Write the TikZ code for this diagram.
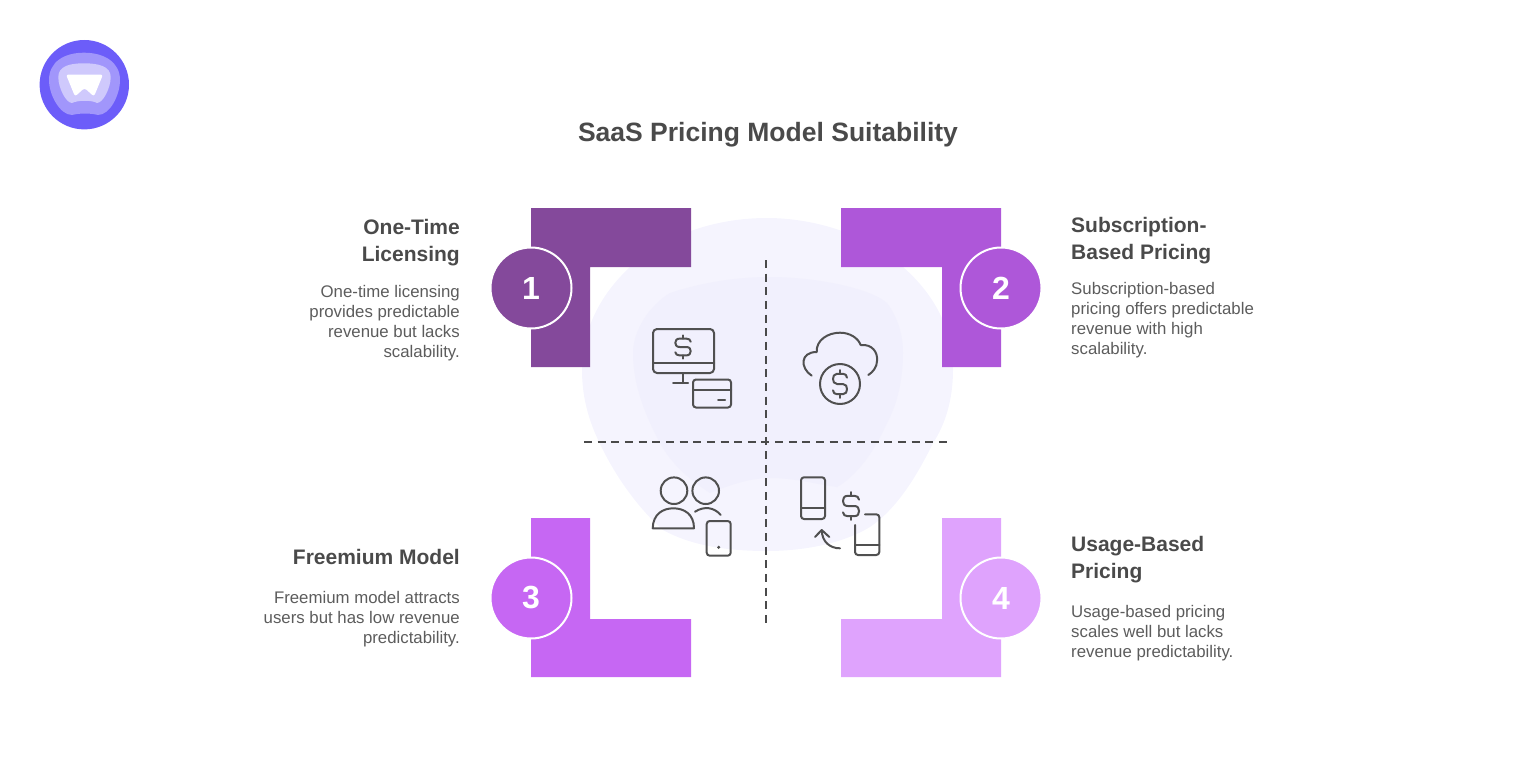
\documentclass[tikz,border=0pt]{standalone}
\usepackage{fontspec}
\setmainfont{Liberation Sans}
\usetikzlibrary{positioning,arrows.meta}
\definecolor{onecol}{HTML}{84499B}
\definecolor{twocol}{HTML}{AE57D9}
\definecolor{threecol}{HTML}{C667F3}
\definecolor{fourcol}{HTML}{DFA3FD}
\definecolor{inkcol}{HTML}{4A4A4A}
\definecolor{bodycol}{HTML}{5C5C5C}
\definecolor{iconcol}{HTML}{505050}
\tikzset{x=1pt,y=-1pt,
	 numroot/.style={circle,draw=white,line width=2pt,inner sep=0pt,minimum size=81pt,text=white,font=\bfseries\fontsize{32}{32}\selectfont},
	 headroot/.style={inner sep=0pt,text=inkcol,font=\bfseries\fontsize{21}{27}\selectfont},
	 bodyroot/.style={inner sep=0pt,text=bodycol,font=\fontsize{16.8}{20}\selectfont},
	 icon/.style={draw=iconcol,line width=2pt,line cap=round,line join=round},
	 divider/.style={draw=inkcol,line width=2pt,dash pattern=on 8pt off 5.65pt},
	 coin/.pic={\draw[icon] (7,-5) .. controls (7,-7) and (5,-8) .. (3,-8) -- (-3,-8) .. controls (-6,-8) and (-7,-6) .. (-7,-4) .. controls (-7,-2) and (-6,0) .. (-3,0) -- (3,0) .. controls (6,0) and (7,2) .. (7,4) .. controls (7,6) and (6,8) .. (3,8) -- (-3,8) .. controls (-5,8) and (-7,7) .. (-7,5);
		\draw[icon] (0,-8) -- (0,-11);
		\draw[icon] (0,8) -- (0,11);}
	 }
\begin{document}
\begin{tikzpicture}
	\useasboundingbox (0,0) rectangle (1536,768);
	% logo
	\fill[color={rgb,255:red,108;green,93;blue,249}] (84.3,84.7) circle (44.7);
	\fill[color={rgb,255:red,161;green,150;blue,251}] (84,52.7) .. controls (104,52.7) and (120,62) .. (120,80) .. controls (120,95) and (110,115) .. (98,115) .. controls (90,113) and (80,113) .. (72,115) .. controls (60,115) and (49,95) .. (49,80) .. controls (49,62) and (64,52.7) .. (84,52.7) -- cycle;
	\fill[color={rgb,255:red,207;green,201;blue,252}] (84,63.3) .. controls (98,63.3) and (110.7,66) .. (110.7,77) .. controls (110.7,88) and (103,103) .. (97,103) .. controls (92,100) and (78,100) .. (72,103) .. controls (66,103) and (58.3,88) .. (58.3,77) .. controls (58.3,66) and (70,63.3) .. (84,63.3) -- cycle;
	\fill[white,rounded corners=2.5pt] (66,74.5) -- (103,74.5) -- (94,96.5) -- (84.5,88) -- (75,96.5) -- cycle;
	% backdrop
	\fill[color={rgb,255:red,245;green,244;blue,254}] (767,218) .. controls (815,218) and (870,235) .. (903,267) .. controls (935,295) and (953,330) .. (953,370) .. controls (953,400) and (945,425) .. (933,443) .. controls (915,480) and (895,510) .. (870,527) .. controls (840,545) and (800,551) .. (767,551) .. controls (725,551) and (690,545) .. (663,530) .. controls (640,510) and (618,480) .. (603,450) .. controls (590,425) and (582,400) .. (582,370) .. controls (582,330) and (600,295) .. (630,267) .. controls (665,235) and (715,218) .. (767,218) -- cycle;
	\fill[color={rgb,255:red,241;green,240;blue,253}] (770,277) .. controls (815,277) and (870,288) .. (887,303) .. controls (898,318) and (903,335) .. (903,353) .. controls (903,380) and (897,405) .. (887,423) .. controls (875,450) and (858,475) .. (837,487) .. controls (815,484) and (795,478) .. (770,478) .. controls (750,478) and (730,485) .. (710,493) .. controls (690,480) and (672,465) .. (660,443) .. controls (645,415) and (633,385) .. (633,353) .. controls (633,330) and (650,305) .. (670,293) .. controls (700,283) and (735,277) .. (770,277) -- cycle;
	% corners
	\fill[onecol] (531,208) -- (691,208) -- (691,267) -- (590,267) -- (590,367) -- (531,367) -- cycle;
	\fill[twocol] (1001,208) -- (841,208) -- (841,267) -- (942,267) -- (942,367) -- (1001,367) -- cycle;
	\fill[threecol] (531,677) -- (691,677) -- (691,619) -- (590,619) -- (590,518) -- (531,518) -- cycle;
	\fill[fourcol] (1001,677) -- (841,677) -- (841,619) -- (942,619) -- (942,518) -- (1001,518) -- cycle;
	% numbers
	\node[numroot,fill=onecol] (num1) at (531,288) {1};
	\node[numroot,fill=twocol] (num2) at (1001,288) {2};
	\node[numroot,fill=threecol] (num3) at (531,598) {3};
	\node[numroot,fill=fourcol] (num4) at (1001,598) {4};
	% dividers
	\coordinate (vtop) at (766,260);
	\coordinate (vbot) at (766,625);
	\coordinate (hleft) at (584,442);
	\coordinate (hright) at (947,442);
	\draw[divider] (vtop) -- (vbot);
	\draw[divider] (hleft) -- (hright);
	% texts
	\node[inner sep=0pt,text=inkcol,font=\bfseries\fontsize{26.5}{32}\selectfont] (title) at (768,135) {SaaS Pricing Model Suitability};
	\node[headroot,align=right,anchor=east] (head1) at (460,243) {One-Time\\Licensing};
	\node[bodyroot,align=right] (body1) [below=19pt of head1.south east,anchor=north east] {One-time licensing\\provides predictable\\revenue but lacks\\scalability.};
	\node[headroot,align=left,anchor=west] (head2) at (1071,241) {Subscription-\\Based Pricing};
	\node[bodyroot,align=left] (body2) [below=18pt of head2.south west,anchor=north west] {Subscription-based\\pricing offers predictable\\revenue with high\\scalability.};
	\node[headroot,align=right,anchor=east] (head3) at (460,556.5) {Freemium Model};
	\node[bodyroot,align=right] (body3) [below=27pt of head3.south east,anchor=north east] {Freemium model attracts\\users but has low revenue\\predictability.};
	\node[headroot,align=left,anchor=west] (head4) at (1071,560) {Usage-Based\\Pricing};
	\node[bodyroot,align=left] (body4) [below=22pt of head4.south west,anchor=north west] {Usage-based pricing\\scales well but lacks\\revenue predictability.};
	% monitor and card
	\draw[icon,rounded corners=4pt] (653,329) rectangle (714,373);
	\draw[icon] (653,363) -- (714,363);
	\draw[icon] (683,373) -- (683,383);
	\draw[icon] (673,383) -- (688,383);
	\draw[icon,rounded corners=3pt] (693,379.5) rectangle (731,407.5);
	\draw[icon] (693,390) -- (731,390);
	\draw[icon] (718,400) -- (725,400);
	\pic[xscale=1.1,yscale=1.05] at (683,347) {coin};
	% cloud
	\draw[icon] (811.7,375.7) .. controls (800,368) and (800,352) .. (816.7,352) .. controls (816,340) and (828,332.7) .. (840,332.7) .. controls (850,332.7) and (858,338) .. (860.7,345) .. controls (872,344) and (878,352) .. (877,361) .. controls (877,367) and (873,372) .. (868.3,375);
	\draw[icon] (840,384) circle (20);
	\pic[xscale=1,yscale=1.27] at (840,384) {coin};
	% users
	\draw[icon] (674,490.7) circle (13.3);
	\draw[icon] (705.7,490.7) circle (13.3);
	\draw[icon] (652.7,528.3) .. controls (653,514) and (663,508.3) .. (673.3,508.3) .. controls (684,508.3) and (694,514) .. (694,528.3) -- cycle;
	\draw[icon] (695,511.7) .. controls (704,506) and (714,507) .. (720.7,515);
	\draw[icon,rounded corners=3pt] (706.7,521) rectangle (730.7,555.7);
	\fill[iconcol] (718.7,547.3) circle (1.7);
	% phones
	\draw[icon,rounded corners=3pt] (801,477.3) rectangle (825,519);
	\draw[icon] (801,508.3) -- (825,508.3);
	\pic[xscale=1.15,yscale=1.27] at (851,506) {coin};
	\draw[icon,rounded corners=3pt] (865,514.3) -- (879.3,514.3) -- (879.3,555) -- (855,555) -- (855,525);
	\draw[icon] (855,545) -- (879.3,545);
	\draw[icon] (840,548.3) .. controls (830,548.3) and (822,542) .. (821.7,530);
	\draw[icon] (815,537) -- (821.7,530) -- (829.3,537);
\end{tikzpicture}
\end{document}
